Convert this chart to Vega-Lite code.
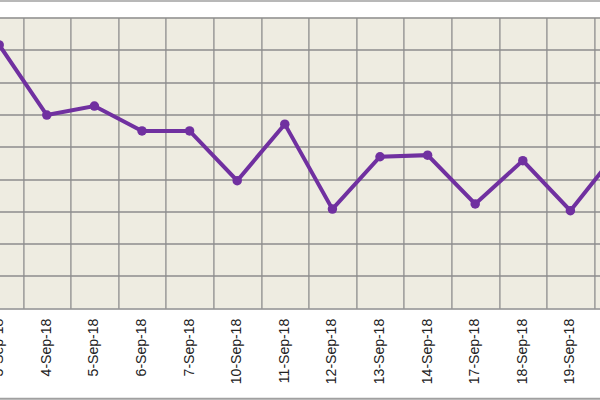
{
  "$schema": "https://vega.github.io/schema/vega-lite/v6.json",
  "autosize": "none",
  "width": 666.4,
  "height": 290.8,
  "padding": {"left": -24.6, "top": 17.5, "right": -41.8, "bottom": 91.7},
  "background": "white",
  "config": {
    "view": {"fill": "#EEECE1", "stroke": null},
    "font": "Liberation Sans"
  },
  "data": {
    "values": [
      {"date": "3-Sep-18", "value": 81.5},
      {"date": "4-Sep-18", "value": 59.8},
      {"date": "5-Sep-18", "value": 62.6},
      {"date": "6-Sep-18", "value": 54.9},
      {"date": "7-Sep-18", "value": 54.9},
      {"date": "10-Sep-18", "value": 39.5},
      {"date": "11-Sep-18", "value": 57.0},
      {"date": "12-Sep-18", "value": 30.7},
      {"date": "13-Sep-18", "value": 46.9},
      {"date": "14-Sep-18", "value": 47.4},
      {"date": "17-Sep-18", "value": 32.3},
      {"date": "18-Sep-18", "value": 45.7},
      {"date": "19-Sep-18", "value": 30.2},
      {"date": "20-Sep-18", "value": 48.7}
    ]
  },
  "encoding": {
    "y": {
      "field": "value",
      "type": "quantitative",
      "scale": {"domain": [0, 90], "nice": false},
      "axis": {
        "values": [0, 10, 20, 30, 40, 50, 60, 70, 80, 90],
        "grid": true,
        "gridColor": "#8C8C8C",
        "gridWidth": 1.3,
        "gridOpacity": 1,
        "labels": false,
        "ticks": false,
        "domain": false,
        "title": null
      }
    }
  },
  "layer": [
    {
      "mark": {"type": "line", "color": "#7030A0", "strokeWidth": 4},
      "encoding": {
        "x": {
          "field": "date",
          "type": "ordinal",
          "sort": null,
          "scale": {"paddingInner": 0, "paddingOuter": 0},
          "axis": {
            "orient": "top",
            "offset": 17,
            "tickBand": "extent",
            "grid": true,
            "gridColor": "#8C8C8C",
            "gridWidth": 1.3,
            "gridOpacity": 1,
            "labels": false,
            "ticks": false,
            "domain": true,
            "domainColor": "#A0A0A0",
            "domainWidth": 1.5,
            "title": null
          }
        }
      }
    },
    {
      "mark": {"type": "point", "filled": true, "color": "#7030A0", "size": 90, "opacity": 1},
      "encoding": {
        "x": {
          "field": "date",
          "type": "ordinal",
          "sort": null,
          "axis": {
            "orient": "bottom",
            "offset": 90,
            "grid": false,
            "ticks": false,
            "domain": true,
            "domainColor": "#A0A0A0",
            "domainWidth": 2,
            "labelAngle": -90,
            "labelPadding": -80,
            "labelFontSize": 14,
            "labelColor": "#222222",
            "labelFont": "Liberation Sans",
            "title": null
          }
        }
      }
    }
  ],
  "resolve": {"axis": {"x": "independent"}}
}
